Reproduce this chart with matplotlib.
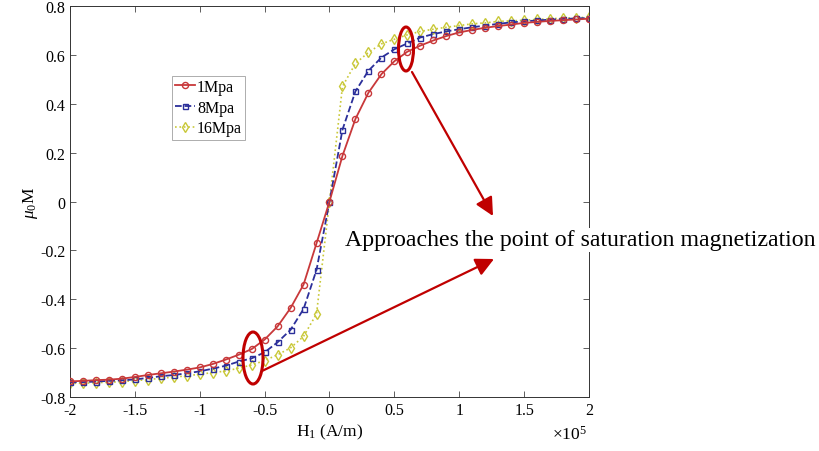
import numpy as np
import matplotlib
matplotlib.use("Agg")
import matplotlib.pyplot as plt
from matplotlib.patches import Ellipse

plt.rcParams['font.family'] = ['Liberation Serif', 'DejaVu Serif']
plt.rcParams['mathtext.fontset'] = 'custom'
plt.rcParams['mathtext.rm'] = 'Liberation Serif'
plt.rcParams['mathtext.it'] = 'Liberation Serif:italic'

# H1 in units of 1e5 A/m
H = [round(-2.0 + 0.1 * i, 1) for i in range(41)]

m_1mpa = [-0.736, -0.734, -0.731, -0.729, -0.725, -0.718, -0.710, -0.703, -0.696, -0.688,
          -0.679, -0.665, -0.647, -0.627, -0.604, -0.565, -0.511, -0.436, -0.340, -0.171,
          0.0,
          0.187, 0.338, 0.445, 0.521, 0.574, 0.613, 0.638, 0.659, 0.677, 0.692,
          0.702, 0.711, 0.718, 0.724, 0.731, 0.735, 0.739, 0.742, 0.745, 0.748]
m_8mpa = [-0.740, -0.739, -0.737, -0.734, -0.732, -0.728, -0.722, -0.715, -0.710, -0.703,
          -0.695, -0.684, -0.672, -0.655, -0.642, -0.617, -0.576, -0.525, -0.440, -0.280,
          0.0,
          0.294, 0.451, 0.535, 0.589, 0.623, 0.647, 0.671, 0.685, 0.696, 0.705,
          0.713, 0.720, 0.727, 0.733, 0.737, 0.741, 0.744, 0.747, 0.749, 0.751]
m_16mpa = [-0.744, -0.744, -0.741, -0.740, -0.737, -0.733, -0.729, -0.723, -0.719, -0.713,
           -0.707, -0.700, -0.694, -0.682, -0.669, -0.651, -0.627, -0.599, -0.552, -0.460,
           0.0,
           0.471, 0.565, 0.610, 0.645, 0.664, 0.682, 0.696, 0.705, 0.713, 0.720,
           0.727, 0.731, 0.737, 0.739, 0.742, 0.745, 0.748, 0.750, 0.752, 0.754]

labels = ['1Mpa', '8Mpa', '16Mpa']
xticks = [-2, -1.5, -1, -0.5, 0, 0.5, 1, 1.5, 2]
xticklabels = ['-2', '-1.5', '-1', '-0.5', '0', '0.5', '1', '1.5', '2']
yticks = [-0.8, -0.6, -0.4, -0.2, 0, 0.2, 0.4, 0.6, 0.8]
yticklabels = ['-0.8', '-0.6', '-0.4', '-0.2', '0', '0.2', '0.4', '0.6', '0.8']

fig = plt.figure(figsize=(8.2, 4.52), dpi=100)
ax = fig.add_axes([70 / 820, 1 - 398 / 452, (589 - 70) / 820, (398 - 7) / 452])

red = '#c8383a'
blue = '#2b2f9a'
yel = '#c9c838'
ax.plot(H, m_1mpa, '-', color=red, lw=1.3, marker='o', ms=4.4, mfc='none', mew=1.0, label=labels[0], zorder=4)
ax.plot(H, m_8mpa, '--', color=blue, lw=1.3, marker='s', ms=3.6, mfc='none', mew=1.0, label=labels[1], zorder=3)
ax.plot(H, m_16mpa, ':', color=yel, lw=1.2, marker='d', ms=4.6, mfc='none', mew=1.0, label=labels[2], zorder=2)

ax.set_xlim(-2, 2)
ax.set_ylim(-0.8, 0.8)
ax.set_xticks(xticks)
ax.set_xticklabels(xticklabels)
ax.set_yticks(yticks)
ax.set_yticklabels(yticklabels)
ax.tick_params(direction='in', top=True, right=True, labelsize=11.5, length=4, width=0.6, color='#444444')
for s in ax.spines.values():
    s.set_linewidth(0.7)
    s.set_color('#333333')

ax.set_xlabel('H$_{\\mathrm{1}}$ (A/m)', fontsize=12.5, labelpad=3)
ax.set_ylabel('$\\mu_{\\mathrm{0}}$M', fontsize=12.5, labelpad=0)
ax.text(0.963, -0.093, '$\\times\\mathrm{10}^{\\mathrm{5}}$', transform=ax.transAxes,
        fontsize=12.5, ha='center', va='center')

leg = ax.legend(loc='upper left', bbox_to_anchor=(0.197, 0.822), fontsize=11.5,
                frameon=True, fancybox=False, edgecolor='#888888', handlelength=1.2,
                handletextpad=0.15, borderpad=0.2, labelspacing=0.3, borderaxespad=0)
leg.get_frame().set_linewidth(0.6)

# annotations in pixel-like figure coordinates
dark_red = '#c00000'
def fx(px):
    return px / 820
def fy(py):
    return 1 - py / 452

e1 = Ellipse((fx(406), fy(50)), 15 / 820, 44 / 452, transform=fig.transFigure,
             fill=False, ec=dark_red, lw=2.2, zorder=6)
e2 = Ellipse((fx(253), fy(359)), 20 / 820, 52 / 452, transform=fig.transFigure,
             fill=False, ec=dark_red, lw=2.2, zorder=6)
fig.add_artist(e1)
fig.add_artist(e2)

arrowprops = dict(arrowstyle='-|>,head_length=1.1,head_width=0.55', color=dark_red, lw=1.6,
                  shrinkA=0, shrinkB=0)
fig.add_artist(plt.Annotation('', xy=(fx(493), fy(217)), xytext=(fx(412), fy(73)),
                              xycoords='figure fraction', textcoords='figure fraction',
                              arrowprops=arrowprops))
fig.add_artist(plt.Annotation('', xy=(fx(494), fy(260)), xytext=(fx(262), fy(372)),
                              xycoords='figure fraction', textcoords='figure fraction',
                              arrowprops=arrowprops))

fig.text(fx(580), fy(241), 'Approaches the point of saturation magnetization',
         fontsize=17.2, ha='center', va='center', color='black',
         bbox=dict(fc='white', ec='none', pad=1))

fig.savefig('out.png', dpi=100)
